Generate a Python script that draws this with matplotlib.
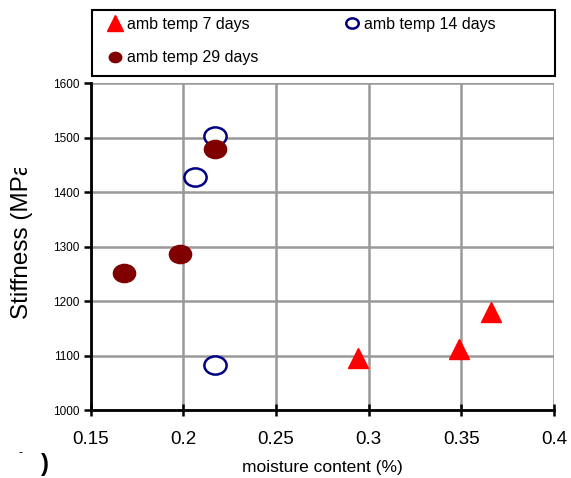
import matplotlib.pyplot as plt
from matplotlib.path import Path
from matplotlib.patches import Rectangle
from matplotlib.transforms import Affine2D, Bbox

plt.rcParams['font.family'] = ['Liberation Sans', 'DejaVu Sans']

# data
x_7 = [0.294, 0.349, 0.366]
y_7 = [1095, 1112, 1180]
x_14 = [0.217, 0.206, 0.217]
y_14 = [1503, 1427, 1083]
x_29 = [0.217, 0.198, 0.168]
y_29 = [1479, 1286, 1251]
x_ticks = [0.15, 0.2, 0.25, 0.3, 0.35, 0.4]
x_tick_labels = ['0.15', '0.2', '0.25', '0.3', '0.35', '0.4']
y_ticks = [1000, 1100, 1200, 1300, 1400, 1500, 1600]

# slightly flattened circle, like the original
ellipse = Path.unit_circle().transformed(Affine2D().scale(1.0, 0.82))

fig = plt.figure(figsize=(5.71, 4.78), dpi=100)
ax = fig.add_axes([0.159, 0.142, 0.811, 0.684])

h7, = ax.plot(x_7, y_7, linestyle='none', marker='^', markersize=15, color='#ff0000',
              label='amb temp 7 days', clip_on=False)
h14, = ax.plot(x_14, y_14, linestyle='none', marker=ellipse, markersize=16,
               markerfacecolor='white', markeredgecolor='#000080', markeredgewidth=1.8,
               label='amb temp 14 days', clip_on=False)
h29, = ax.plot(x_29, y_29, linestyle='none', marker=ellipse, markersize=16,
               color='#800000', label='amb temp 29 days', clip_on=False)

ax.set_xlim(0.15, 0.4)
ax.set_ylim(1000, 1600)
ax.set_xticks(x_ticks)
ax.set_xticklabels(x_tick_labels, fontsize=13.5)
ax.set_yticks(y_ticks)
ax.set_yticklabels([str(v) for v in y_ticks], fontsize=8.5)
ax.tick_params(axis='y', direction='out', length=5, width=1.8, pad=3)
ax.tick_params(axis='x', direction='inout', length=8, width=1.8, pad=11)

ax.grid(True, color='#999999', linewidth=1.8)
ax.set_axisbelow(True)
for side in ['top', 'right']:
    ax.spines[side].set_visible(False)
for side in ['left', 'bottom']:
    ax.spines[side].set_linewidth(2)
    ax.spines[side].set_zorder(3)

ax.set_xlabel('moisture content (%)', fontsize=12.5, labelpad=9)

# y label, cut off at the top as in the original
yl = fig.text(0.0385, 1 - 319 / 478, 'Stiffness (MPa)', rotation=90, fontsize=17.5,
              ha='center', va='bottom')
yl.set_clip_box(Bbox.from_extents(0, 0, 571, 478 - 168))

fig.text(0.033, 0.045, '-', fontsize=9)
fig.text(0.072, 0.015, ')', fontsize=17, fontweight='bold')

# legend frame
fig.patches.append(Rectangle((0.161, 0.841), 0.811, 0.138, transform=fig.transFigure,
                             fill=False, edgecolor='black', linewidth=1.5))
leg = fig.legend(handles=[h7, h29, h14], loc='upper left',
                 bbox_to_anchor=(0.183, 0.972), ncol=2, fontsize=11.5, frameon=False,
                 handlelength=0.9, handletextpad=0.3, columnspacing=5.4,
                 borderaxespad=0, labelspacing=1.18, borderpad=0.2)
sizes = [11, 9, 9]
for h, s in zip(leg.legend_handles, sizes):
    h.set_markersize(s)

fig.savefig('out.png', dpi=100)
